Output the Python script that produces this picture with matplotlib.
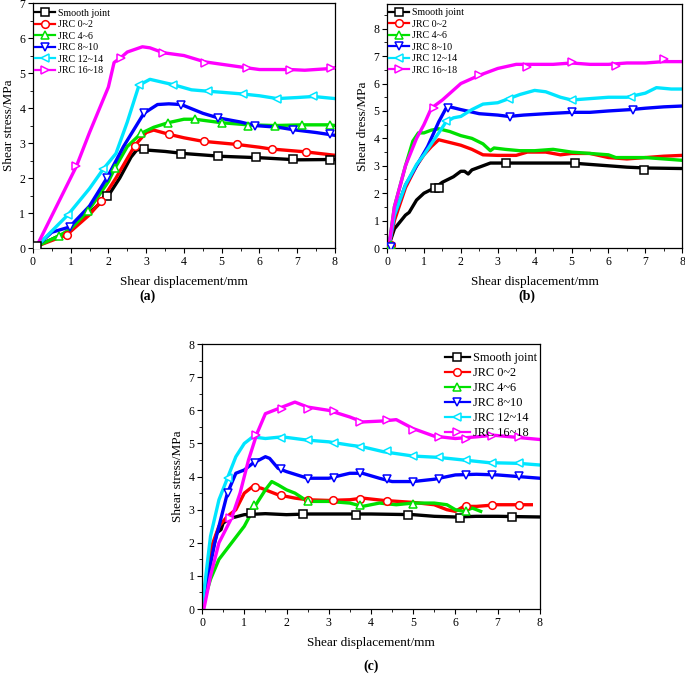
import matplotlib
matplotlib.use("Agg")
import matplotlib.pyplot as plt
from matplotlib.lines import Line2D
from matplotlib.ticker import MultipleLocator

plt.rcParams['font.family'] = ['Liberation Serif', 'DejaVu Serif']
plt.rcParams['mathtext.fontset'] = 'stix'

labels = ["Smooth joint", "JRC 0~2", "JRC 4~6", "JRC 8~10", "JRC 12~14", "JRC 16~18"]
colors = ["#000000", "#ff0000", "#00e000", "#0000ff", "#00e5ff", "#ff00ff"]
markers = ["s", "o", "^", "v", "<", ">"]

# ---------------- Panel (a) ----------------
a_smooth_x = [0.1, 0.5, 1.0, 1.5, 2.0, 2.3, 2.6, 2.75, 2.9, 3.0, 3.5, 4.0, 5.0, 6.0, 7.0, 8.0]
a_smooth_y = [0.05, 0.25, 0.5, 1.0, 1.5, 2.0, 2.6, 2.8, 2.82, 2.8, 2.76, 2.7, 2.62, 2.58, 2.52, 2.53]
a_smooth_mx = [0.1, 1.95, 2.94, 3.93, 4.9, 5.9, 6.88, 7.87]
a_smooth_my = [0.05, 1.5, 2.82, 2.7, 2.62, 2.6, 2.53, 2.52]

a_jrc0_x = [0.1, 0.9, 1.5, 1.8, 2.2, 2.7, 3.0, 3.2, 3.6, 4.0, 4.5, 5.4, 6.0, 6.3, 7.2, 8.0]
a_jrc0_y = [0.05, 0.38, 0.95, 1.33, 2.0, 2.93, 3.3, 3.37, 3.25, 3.15, 3.05, 2.96, 2.88, 2.83, 2.75, 2.65]
a_jrc0_mx = [0.91, 1.81, 2.7, 3.6, 4.53, 5.41, 6.32, 7.23]
a_jrc0_my = [0.38, 1.33, 2.92, 3.25, 3.05, 2.96, 2.83, 2.75]

a_jrc4_x = [0.1, 0.7, 1.0, 1.46, 2.0, 2.17, 2.5, 2.87, 3.2, 3.58, 4.0, 4.29, 5.0, 5.7, 6.41, 7.14, 7.87, 8.0]
a_jrc4_y = [0.05, 0.35, 0.55, 1.05, 1.9, 2.28, 2.9, 3.28, 3.45, 3.58, 3.68, 3.68, 3.58, 3.52, 3.5, 3.52, 3.52, 3.5]
a_jrc4_mx = [0.7, 1.46, 2.17, 2.87, 3.58, 4.29, 5.0, 5.7, 6.41, 7.14, 7.87]
a_jrc4_my = [0.35, 1.05, 2.28, 3.28, 3.58, 3.68, 3.58, 3.5, 3.5, 3.52, 3.52]

a_jrc8_x = [0.1, 0.5, 0.97, 1.5, 1.96, 2.4, 2.94, 3.3, 3.6, 3.93, 4.5, 4.9, 5.5, 5.88, 6.5, 6.9, 7.5, 8.0]
a_jrc8_y = [0.05, 0.45, 0.6, 1.2, 2.0, 2.9, 3.85, 4.1, 4.12, 4.1, 3.85, 3.72, 3.6, 3.5, 3.45, 3.38, 3.3, 3.22]
a_jrc8_mx = [0.97, 1.96, 2.94, 3.93, 4.9, 5.88, 6.9, 7.87]
a_jrc8_my = [0.6, 2.0, 3.85, 4.1, 3.72, 3.5, 3.38, 3.25]

a_jrc12_x = [0.1, 0.93, 1.5, 1.86, 2.2, 2.5, 2.81, 3.1, 3.5, 3.71, 4.2, 4.64, 5.0, 5.57, 6.0, 6.47, 7.0, 7.43, 8.0]
a_jrc12_y = [0.05, 0.95, 1.7, 2.25, 2.7, 3.6, 4.65, 4.82, 4.72, 4.67, 4.52, 4.48, 4.45, 4.4, 4.35, 4.27, 4.3, 4.33, 4.27]
a_jrc12_mx = [0.93, 1.86, 2.81, 3.71, 4.64, 5.57, 6.47, 7.43]
a_jrc12_my = [0.95, 2.25, 4.65, 4.67, 4.48, 4.4, 4.25, 4.33]

a_jrc16_x = [0.1, 1.15, 1.5, 2.0, 2.15, 2.34, 2.5, 2.9, 3.1, 3.45, 4.0, 4.55, 5.0, 5.66, 6.0, 6.8, 7.2, 7.9, 8.0]
a_jrc16_y = [0.05, 2.33, 3.3, 4.6, 5.3, 5.45, 5.6, 5.75, 5.72, 5.58, 5.5, 5.32, 5.25, 5.15, 5.1, 5.1, 5.08, 5.13, 5.15]
a_jrc16_mx = [1.15, 2.34, 3.45, 4.55, 5.66, 6.8, 7.9]
a_jrc16_my = [2.33, 5.43, 5.57, 5.3, 5.15, 5.1, 5.13]

# ---------------- Panel (b) ----------------
b_smooth_x = [0.05, 0.2, 0.5, 0.6, 0.8, 1.0, 1.3, 1.5, 1.8, 2.0, 2.1, 2.2, 2.3, 2.6, 2.8, 3.2, 4.0, 5.0, 5.5, 6.0, 6.5, 7.0, 8.0]
b_smooth_y = [0.1, 0.7, 1.2, 1.3, 1.75, 2.0, 2.2, 2.4, 2.6, 2.8, 2.8, 2.7, 2.85, 3.0, 3.1, 3.1, 3.1, 3.1, 3.05, 3.0, 2.95, 2.92, 2.9]
b_smooth_mx = [1.3, 1.4, 3.22, 5.1, 6.97]
b_smooth_my = [2.2, 2.2, 3.1, 3.1, 2.85]

b_jrc0_x = [0.05, 0.2, 0.5, 0.8, 1.0, 1.2, 1.4, 1.7, 2.0, 2.3, 2.6, 3.0, 3.5, 3.8, 4.3, 4.7, 5.0, 5.5, 6.0, 6.5, 7.0, 7.5, 8.0]
b_jrc0_y = [0.05, 1.0, 2.2, 3.0, 3.4, 3.7, 3.95, 3.85, 3.75, 3.6, 3.4, 3.38, 3.38, 3.5, 3.5, 3.4, 3.45, 3.45, 3.3, 3.25, 3.3, 3.35, 3.38]
b_jrc0_mx = [0.1]
b_jrc0_my = [0.1]

b_jrc4_x = [0.05, 0.2, 0.5, 0.7, 0.85, 1.0, 1.2, 1.4, 1.7, 2.0, 2.3, 2.6, 2.8, 2.9, 3.2, 3.6, 4.0, 4.5, 5.0, 5.5, 6.0, 6.2, 6.6, 7.0, 7.5, 8.0]
b_jrc4_y = [0.05, 1.5, 3.0, 3.9, 4.2, 4.2, 4.3, 4.35, 4.25, 4.1, 4.0, 3.8, 3.55, 3.65, 3.6, 3.55, 3.55, 3.6, 3.5, 3.45, 3.4, 3.3, 3.3, 3.3, 3.25, 3.2]
b_jrc4_mx = [0.1]
b_jrc4_my = [0.1]

b_jrc8_x = [0.05, 0.2, 0.5, 0.8, 1.1, 1.4, 1.6, 1.7, 2.0, 2.5, 3.0, 3.3, 3.7, 4.3, 5.0, 5.5, 6.0, 6.6, 7.0, 7.5, 8.0]
b_jrc8_y = [0.05, 1.2, 2.3, 3.0, 3.7, 4.6, 5.1, 5.15, 5.05, 4.9, 4.85, 4.8, 4.85, 4.9, 4.95, 4.95, 5.0, 5.05, 5.1, 5.15, 5.18]
b_jrc8_mx = [0.1, 1.65, 3.33, 5.0, 6.66]
b_jrc8_my = [0.05, 5.1, 4.78, 4.97, 5.05]

b_jrc12_x = [0.05, 0.2, 0.5, 0.8, 1.0, 1.3, 1.6, 1.8, 2.0, 2.3, 2.6, 3.0, 3.3, 3.6, 4.0, 4.3, 4.7, 5.0, 5.5, 6.0, 6.5, 7.0, 7.3, 7.7, 8.0]
b_jrc12_y = [0.05, 1.2, 2.3, 3.05, 3.4, 4.0, 4.6, 4.75, 4.8, 5.05, 5.25, 5.3, 5.45, 5.6, 5.75, 5.7, 5.5, 5.4, 5.45, 5.5, 5.5, 5.65, 5.85, 5.8, 5.8]
b_jrc12_mx = [1.6, 3.3, 5.0, 6.6]
b_jrc12_my = [4.65, 5.45, 5.4, 5.5]

b_jrc16_x = [0.05, 0.2, 0.5, 0.8, 1.0, 1.2, 1.5, 2.0, 2.5, 3.0, 3.5, 4.0, 4.5, 5.0, 5.5, 6.0, 6.5, 7.0, 7.5, 8.0]
b_jrc16_y = [0.05, 1.5, 3.0, 4.0, 4.5, 5.1, 5.4, 6.0, 6.3, 6.55, 6.7, 6.7, 6.7, 6.75, 6.7, 6.7, 6.75, 6.75, 6.8, 6.8]
b_jrc16_mx = [1.27, 2.5, 3.8, 5.0, 6.2, 7.5]
b_jrc16_my = [5.1, 6.3, 6.6, 6.8, 6.65, 6.9]

# ---------------- Panel (c) ----------------
c_smooth_x = [0.0, 0.2, 0.35, 0.45, 0.5, 0.7, 1.0, 1.5, 2.0, 2.5, 3.0, 4.0, 5.0, 5.5, 6.0, 6.5, 7.0, 8.0]
c_smooth_y = [0.05, 1.5, 2.3, 2.4, 2.6, 2.75, 2.85, 2.88, 2.85, 2.87, 2.87, 2.87, 2.85, 2.8, 2.78, 2.8, 2.8, 2.78]
c_smooth_mx = [1.15, 2.4, 3.65, 4.87, 6.1, 7.35]
c_smooth_my = [2.9, 2.88, 2.85, 2.85, 2.75, 2.78]

c_jrc0_x = [0.0, 0.2, 0.4, 0.6, 0.8, 1.0, 1.2, 1.4, 1.8, 2.2, 2.5, 3.0, 3.5, 3.8, 4.3, 5.0, 5.5, 5.8, 6.0, 6.2, 6.5, 7.0, 7.5, 7.8]
c_jrc0_y = [0.05, 1.8, 2.5, 2.8, 3.0, 3.5, 3.7, 3.65, 3.45, 3.35, 3.3, 3.28, 3.3, 3.35, 3.28, 3.22, 3.15, 3.0, 2.95, 3.1, 3.1, 3.15, 3.15, 3.15]
c_jrc0_mx = [1.25, 1.88, 2.5, 3.1, 3.75, 4.38, 6.25, 6.87, 7.5]
c_jrc0_my = [3.7, 3.45, 3.3, 3.28, 3.33, 3.27, 3.12, 3.15, 3.13]

c_jrc4_x = [0.0, 0.2, 0.4, 0.7, 1.0, 1.25, 1.5, 1.65, 1.8, 2.0, 2.2, 2.5, 3.0, 3.5, 3.8, 4.2, 4.6, 5.0, 5.5, 5.8, 6.0, 6.2, 6.4, 6.6]
c_jrc4_y = [0.05, 0.9, 1.5, 2.0, 2.5, 3.1, 3.6, 3.85, 3.75, 3.6, 3.5, 3.25, 3.25, 3.2, 3.1, 3.2, 3.15, 3.2, 3.2, 3.15, 3.0, 2.95, 3.05, 2.95]
c_jrc4_mx = [1.22, 2.5, 3.75, 5.0, 6.25]
c_jrc4_my = [3.15, 3.25, 3.15, 3.18, 2.95]

c_jrc8_x = [0.0, 0.3, 0.6, 0.8, 1.0, 1.2, 1.5, 1.6, 1.8, 2.0, 2.5, 3.0, 3.5, 3.8, 4.2, 4.5, 5.0, 5.5, 6.0, 6.5, 7.0, 7.5, 8.0]
c_jrc8_y = [0.05, 2.0, 3.5, 4.1, 4.2, 4.4, 4.6, 4.55, 4.25, 4.15, 3.95, 3.95, 4.1, 4.1, 3.95, 3.85, 3.85, 3.92, 4.05, 4.07, 4.05, 4.0, 3.95]
c_jrc8_mx = [0.62, 1.25, 1.88, 2.5, 3.12, 3.75, 4.38, 5.0, 5.62, 6.25, 6.87, 7.5]
c_jrc8_my = [3.5, 4.42, 4.22, 3.92, 3.95, 4.12, 3.93, 3.85, 3.92, 4.05, 4.05, 4.02]

c_jrc12_x = [0.0, 0.2, 0.4, 0.6, 0.8, 1.0, 1.2, 1.5, 1.9, 2.5, 3.0, 3.5, 3.8, 4.3, 5.0, 5.6, 6.2, 6.8, 7.5, 8.0]
c_jrc12_y = [0.05, 2.2, 3.3, 3.95, 4.6, 5.0, 5.2, 5.15, 5.2, 5.1, 5.05, 4.95, 4.9, 4.75, 4.62, 4.58, 4.5, 4.42, 4.4, 4.35]
c_jrc12_mx = [0.62, 1.88, 2.5, 3.12, 3.75, 4.38, 5.0, 5.62, 6.25, 6.87, 7.5]
c_jrc12_my = [3.95, 5.18, 5.12, 5.02, 4.9, 4.78, 4.62, 4.58, 4.5, 4.42, 4.4]

c_jrc16_x = [0.05, 0.2, 0.4, 0.6, 0.7, 0.9, 1.1, 1.3, 1.5, 1.8, 2.0, 2.2, 2.5, 3.0, 3.5, 3.8, 4.3, 4.6, 5.0, 5.5, 6.0, 6.5, 6.9, 7.5, 8.0]
c_jrc16_y = [0.05, 1.0, 2.0, 2.5, 2.75, 3.5, 4.5, 5.3, 5.9, 6.05, 6.15, 6.25, 6.1, 6.0, 5.8, 5.65, 5.68, 5.72, 5.45, 5.22, 5.15, 5.2, 5.25, 5.18, 5.12]
c_jrc16_mx = [0.67, 1.28, 1.9, 2.5, 3.12, 3.75, 4.38, 5.0, 5.62, 6.25, 6.87, 7.5]
c_jrc16_my = [2.75, 5.25, 6.05, 6.05, 5.98, 5.65, 5.7, 5.42, 5.2, 5.15, 5.22, 5.2]

a_series = [(a_smooth_x, a_smooth_y, a_smooth_mx, a_smooth_my),
            (a_jrc0_x, a_jrc0_y, a_jrc0_mx, a_jrc0_my),
            (a_jrc4_x, a_jrc4_y, a_jrc4_mx, a_jrc4_my),
            (a_jrc8_x, a_jrc8_y, a_jrc8_mx, a_jrc8_my),
            (a_jrc12_x, a_jrc12_y, a_jrc12_mx, a_jrc12_my),
            (a_jrc16_x, a_jrc16_y, a_jrc16_mx, a_jrc16_my)]
b_series = [(b_smooth_x, b_smooth_y, b_smooth_mx, b_smooth_my),
            (b_jrc0_x, b_jrc0_y, b_jrc0_mx, b_jrc0_my),
            (b_jrc4_x, b_jrc4_y, b_jrc4_mx, b_jrc4_my),
            (b_jrc8_x, b_jrc8_y, b_jrc8_mx, b_jrc8_my),
            (b_jrc12_x, b_jrc12_y, b_jrc12_mx, b_jrc12_my),
            (b_jrc16_x, b_jrc16_y, b_jrc16_mx, b_jrc16_my)]
c_series = [(c_smooth_x, c_smooth_y, c_smooth_mx, c_smooth_my),
            (c_jrc0_x, c_jrc0_y, c_jrc0_mx, c_jrc0_my),
            (c_jrc4_x, c_jrc4_y, c_jrc4_mx, c_jrc4_my),
            (c_jrc8_x, c_jrc8_y, c_jrc8_mx, c_jrc8_my),
            (c_jrc12_x, c_jrc12_y, c_jrc12_mx, c_jrc12_my),
            (c_jrc16_x, c_jrc16_y, c_jrc16_mx, c_jrc16_my)]

fig = plt.figure(figsize=(6.85, 6.74), dpi=100)

def make_panel(rect, series, ymax, ylabel, tag, legend_fs, legend_anchor, legend_loc,
               lw=2.4, ms=5.5, tick_fs=8.5, label_fs=9.5):
    ax = fig.add_axes(rect)
    for (x, y, mx, my), c, m in zip(series, colors, markers):
        ax.plot(x, y, color=c, lw=lw, solid_joinstyle='round', zorder=2)
        ax.plot(mx, my, ls='none', marker=m, ms=ms, mfc='white', mec=c, mew=1.1, zorder=3)
    ax.set_xlim(0, 8)
    ax.set_ylim(0, ymax)
    ax.xaxis.set_major_locator(MultipleLocator(1))
    ax.xaxis.set_minor_locator(MultipleLocator(0.5))
    ax.yaxis.set_major_locator(MultipleLocator(1))
    ax.yaxis.set_minor_locator(MultipleLocator(0.5))
    ax.tick_params(which='major', direction='out', length=3.5, width=0.8, labelsize=tick_fs, pad=2)
    ax.tick_params(which='minor', direction='out', length=2, width=0.6)
    for s in ax.spines.values():
        s.set_linewidth(0.9)
    ax.set_xlabel("Shear displacement/mm", fontsize=label_fs, labelpad=6)
    ax.set_ylabel(ylabel, fontsize=label_fs, labelpad=3)
    handles = [Line2D([], [], color=c, lw=1.6, marker=m, ms=ms, mfc='white', mec=c, mew=1.1)
               for c, m in zip(colors, markers)]
    ax.legend(handles, labels, loc=legend_loc, bbox_to_anchor=legend_anchor, frameon=False,
              fontsize=legend_fs, handlelength=2.0, handletextpad=0.3, labelspacing=0.25,
              borderaxespad=0.0, borderpad=0.2)
    return ax

ax_a = make_panel([0.048, 0.632, 0.441, 0.3635], a_series, 7, "Shear stress/MPa", "(a)", 7.2,
                  (0.0, 0.985), 'upper left')
ax_b = make_panel([0.565, 0.632, 0.431, 0.362], b_series, 8.9, "Shear dress/MPa", "(b)", 7.2,
                  (0.0, 0.99), 'upper left')
ax_c = make_panel([0.295, 0.0964, 0.493, 0.393], c_series, 8, "Shear stress/MPa", "(c)", 8.8,
                  (1.0, 0.98), 'upper right')

fig.text(148 / 685, 1 - 296 / 674, "(a)", fontsize=10, fontweight='bold', ha='center', va='center')
fig.text(527 / 685, 1 - 296 / 674, "(b)", fontsize=10, fontweight='bold', ha='center', va='center')
fig.text(371 / 685, 1 - 666 / 674, "(c)", fontsize=10, fontweight='bold', ha='center', va='center')

fig.savefig("out.png", dpi=100)
